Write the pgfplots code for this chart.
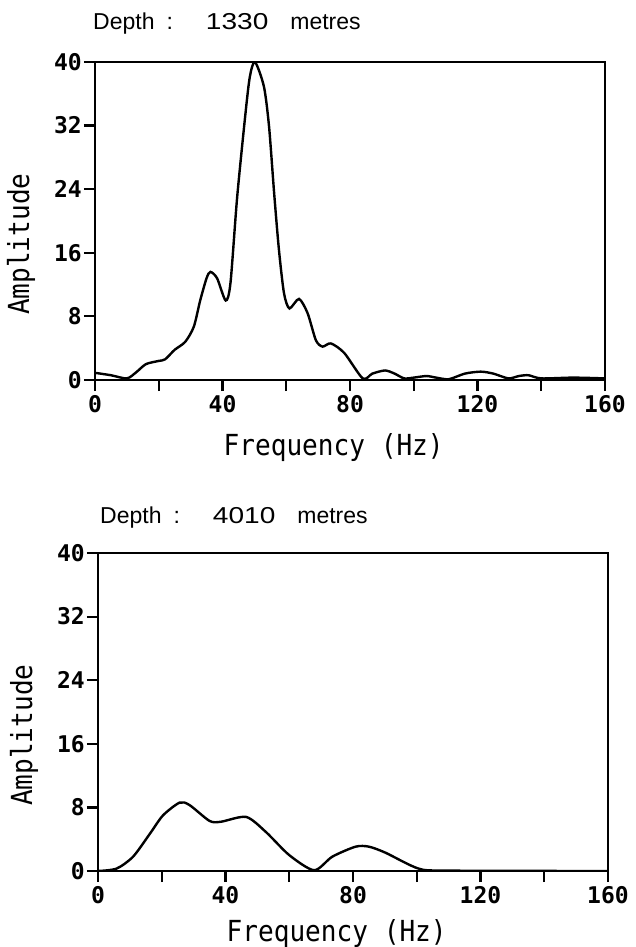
\documentclass[border=0pt]{standalone}
\usepackage{fontspec}
\usepackage{graphicx}
\setmainfont{Liberation Sans}
\newfontfamily\plotfont[FakeStretch=0.9]{DejaVu Sans Mono}
\newfontfamily\tickfont{DejaVu Sans Mono Bold}
\usepackage{pgfplots}
\pgfplotsset{compat=1.18}
\pgfplotsset{
  spec/.style={
    scale only axis, width=510pt, height=318pt,
    xmin=0, xmax=160, ymin=0, ymax=40,
    axis line style={line width=2.2pt},
    xtick={0,40,80,120,160},
    minor xtick={20,60,100,140},
    ytick={0,8,16,24,32,40},
    tick align=outside, xtick pos=bottom, ytick pos=left,
    major tick length=11pt, minor tick length=11pt,
    every tick/.style={line width=2.2pt, black},
    /pgf/number format/assume math mode=true,
    tick label style={font=\fontsize{23}{23}\selectfont\tickfont},
    yticklabel style={inner xsep=2pt},
    xticklabel style={inner ysep=4pt},
    xlabel={Frequency (Hz)}, ylabel={Amplitude},
    label style={font=\fontsize{29}{29}\selectfont\plotfont},
    ylabel style={at={(axis description cs:-0.145,0.427)}, anchor=center},
    clip mode=individual,
  }
}
\begin{document}
\begin{tikzpicture}
\useasboundingbox (-95pt,-567pt) rectangle (540pt,380pt);
\begin{axis}[spec, at={(0pt,0pt)}, anchor=south west,
  xlabel style={at={(axis description cs:0.468,0)}, anchor=base, yshift=-75pt}]
\addplot[black, line width=2.4pt, smooth, tension=0.45] coordinates {
(0,0.9) (5,0.6) (10,0.2) (13,1.0) (16,2.0) (20,2.4) (22,2.6) (25,3.8) (28.3,4.8) (31,6.7) (33,10) (35,12.8) (36.2,13.6) (38.3,12.8) (41,10.0) (42.5,12.2) (44.6,23) (47.2,33.5) (48.6,38.2) (50.2,40) (53,36.9) (54.6,31.9) (56.2,23.5) (57.7,16.4) (59.3,10.9) (61,9.0) (64,10.2) (66.7,8.4) (69.3,5.0) (71.4,4.2) (74,4.6) (78.2,3.4) (84,0.2) (87,0.8) (91,1.2) (94,0.8) (97,0.2) (100,0.3) (104,0.5) (107,0.3) (111,0.1) (116,0.8) (121,1.05) (125,0.8) (129.7,0.2) (133,0.5) (136,0.6) (140,0.2) (150,0.3) (160,0.2)
};
\node[anchor=base west, font=\fontsize{23}{23}\selectfont, inner sep=0pt] at ([xshift=-2pt,yshift=32pt]rel axis cs:0,1)
  {Depth\hspace{12pt}:\hspace{33pt}\scalebox{1.22}[1]{1330}\hspace{22pt}metres};
\end{axis}
\begin{axis}[spec, at={(3pt,-491pt)}, anchor=south west,
  xlabel style={at={(axis description cs:0.468,0)}, anchor=base, yshift=-70pt}]
\addplot[black, line width=2.4pt, smooth, tension=0.45] coordinates {
(0,0) (5.8,0.3) (11,1.8) (16.3,4.7) (20.4,7.0) (25.6,8.6) (28.7,8.3) (35,6.3) (38.6,6.2) (46.5,6.8) (52.7,4.9) (60,2.0) (67.8,0.1) (73.5,1.8) (80.8,3.06) (85,3.06) (90.2,2.3) (100.6,0.3) (110,0.05) (160,0.0)
};
\node[anchor=base west, font=\fontsize{23}{23}\selectfont, inner sep=0pt] at ([xshift=2pt,yshift=30pt]rel axis cs:0,1)
  {Depth\hspace{12pt}:\hspace{33pt}\scalebox{1.22}[1]{4010}\hspace{22pt}metres};
\end{axis}
\end{tikzpicture}
\end{document}
